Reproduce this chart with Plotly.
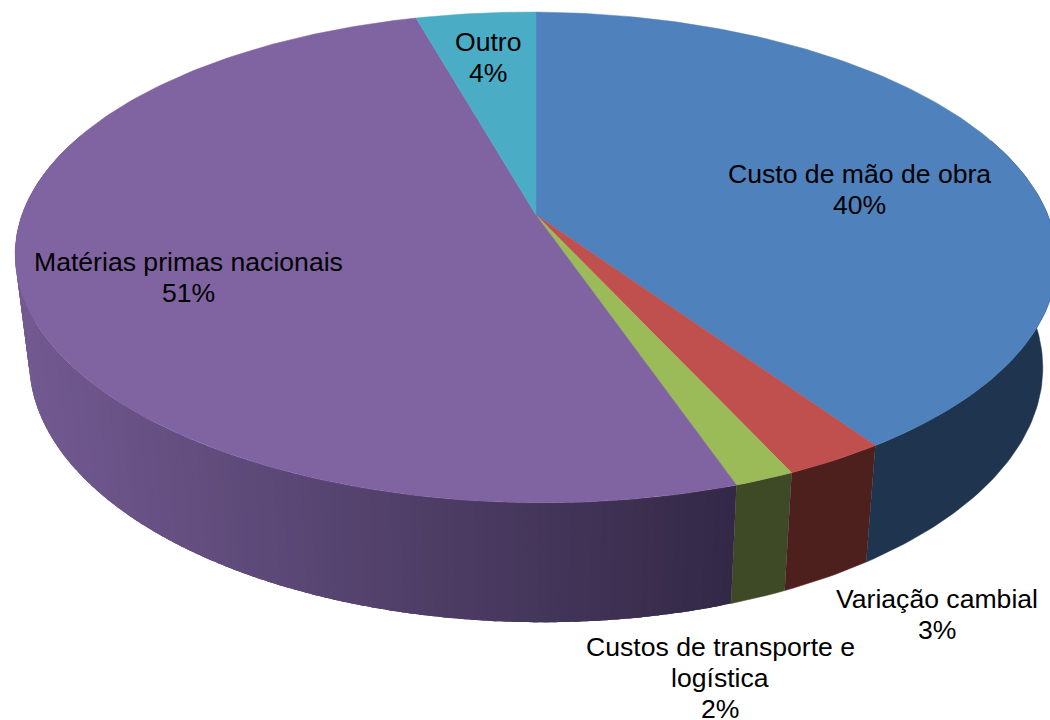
import math
import plotly.graph_objects as go

categories = ["Custo de mão de obra", "Variação cambial", "Custos de transporte e\nlogística",
              "Matérias primas nacionais", "Outro"]
values = [40.4, 2.7, 1.6, 50.9, 4.4]
percent_labels = ["40%", "3%", "2%", "51%", "4%"]
top_colors = ["#4F81BD", "#C0504D", "#9BBB59", "#8064A2", "#4BACC6"]
wall_colors = ["#1F344E", "#4D1F1D", "#3E4925", None, "#26596A"]
label_xy = [(859, 174), (937, 599), (720, 647), (188, 262), (488, 42)]
LINE_GAP = 31

# projection of the tilted disc onto the page
CX, CY, A, B, K = 536, 215, 513, 238, 0.173
SHEAR = 3
BOTTOM_Y, BOTTOM_SX, BOTTOM_SY = 320.0, 0.973, 1.05


def project(deg, bottom=False):
    t = math.radians(deg)
    u, v = math.sin(t), math.cos(t)
    w = 1 + K * v
    x, y = A * u / w, (B * v - SHEAR * u) / w
    if bottom:
        return CX + BOTTOM_SX * x, BOTTOM_Y - BOTTOM_SY * y
    return CX + x, CY - y


def frange(a, b, step):
    n = max(1, int(math.ceil((b - a) / step)))
    return [a + (b - a) * i / n for i in range(n + 1)]


def mix(c1, c2, f):
    return "rgb(%d,%d,%d)" % tuple(round(p + (q - p) * f) for p, q in zip(c1, c2))


fig = go.Figure()
total = sum(values)
edges = [0.0]
for val in values:
    edges.append(edges[-1] + val / total * 360)

# side wall, drawn only on the part of the rim that faces the viewer
VIS_A, VIS_B = 70, 290
for i, val in enumerate(values):
    a, b = max(edges[i], VIS_A), min(edges[i + 1], VIS_B)
    if a >= b:
        continue
    if wall_colors[i] is not None:
        ts = frange(a, b, 1)
        pts = [project(t) for t in ts] + [project(t, True) for t in reversed(ts)]
        fig.add_trace(go.Scatter(x=[p[0] for p in pts], y=[p[1] for p in pts], mode="lines",
                                 fill="toself", fillcolor=wall_colors[i],
                                 line=dict(color=wall_colors[i], width=0.5), hoverinfo="skip"))
    else:
        # strips run from the dark right end to the light left end, each overlapping the next
        ts = frange(a, b, 1.0)
        for t0, t1 in zip(ts[:-1], ts[1:]):
            xm = project((t0 + t1) / 2)[0]
            f = max(0, min(1, (xm - 18) / (738 - 18)))
            col = mix((0x72, 0x5A, 0x91), (0x33, 0x28, 0x46), f)
            t2 = min(t1 + 1.5, b)
            pts = [project(t) for t in frange(t0, t2, 0.5)]
            pts += [project(t, True) for t in reversed(frange(t0, t2, 0.5))]
            fig.add_trace(go.Scatter(x=[p[0] for p in pts], y=[p[1] for p in pts], mode="none",
                                     fill="toself", fillcolor=col, hoverinfo="skip"))

# top face
for i, val in enumerate(values):
    pts = [project(t) for t in frange(edges[i], edges[i + 1], 1)]
    xs = [CX] + [p[0] for p in pts] + [CX]
    ys = [CY] + [p[1] for p in pts] + [CY]
    fig.add_trace(go.Scatter(x=xs, y=ys, mode="lines", fill="toself", fillcolor=top_colors[i],
                             line=dict(color=top_colors[i], width=0.5), hoverinfo="skip"))

for name, pct, (lx, ly) in zip(categories, percent_labels, label_xy):
    for j, line in enumerate(name.split("\n") + [pct]):
        fig.add_annotation(x=lx, y=ly + j * LINE_GAP, text=line, showarrow=False, xanchor="center",
                           yanchor="middle", align="center",
                           font=dict(family="Liberation Sans, Arial, sans-serif", size=26.6, color="#000000"))

fig.update_layout(width=1050, height=720, margin=dict(l=0, r=0, t=0, b=0), showlegend=False,
                  paper_bgcolor="#FFFFFF", plot_bgcolor="#FFFFFF",
                  xaxis=dict(range=[0, 1050], visible=False, fixedrange=True),
                  yaxis=dict(range=[720, 0], visible=False, fixedrange=True))
fig.write_html("out.html", config={"displayModeBar": False},
               post_script="document.body.style.margin='0';document.documentElement.style.overflow='hidden';")
